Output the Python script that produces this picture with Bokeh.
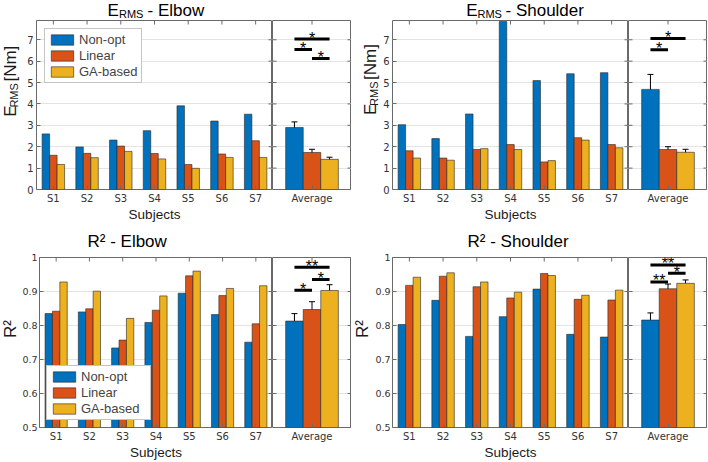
import numpy as np
from bokeh.plotting import figure
from bokeh.layouts import row, column
from bokeh.models import (ColumnDataSource, Range1d, FixedTicker, Whisker, TeeHead,
                          Legend, LegendItem, CustomJSTickFormatter)
from bokeh.core.properties import value
from bokeh.embed import file_html
from bokeh.resources import INLINE

# ---------------- data ----------------
subjects = ["S1", "S2", "S3", "S4", "S5", "S6", "S7"]
avg_label = ["Average"]
methods = ["Non-opt", "Linear", "GA-based"]
colors = ["#0072BD", "#D95319", "#EDB120"]

erms_elbow_nonopt = [2.60, 1.99, 2.31, 2.75, 3.91, 3.20, 3.52]
erms_elbow_linear = [1.60, 1.69, 2.03, 1.68, 1.17, 1.66, 2.28]
erms_elbow_ga = [1.17, 1.49, 1.78, 1.43, 0.99, 1.50, 1.50]
erms_elbow_avg = [2.90, 1.73, 1.41]
erms_elbow_err = [0.26, 0.15, 0.10]
erms_elbow_sig = [(0, 2, 7.03, "*"), (0, 1, 6.54, "*"), (1, 2, 6.12, "*")]

erms_shoulder_nonopt = [3.03, 2.38, 3.53, 7.85, 5.09, 5.41, 5.46]
erms_shoulder_linear = [1.81, 1.47, 1.87, 2.10, 1.29, 2.42, 2.10]
erms_shoulder_ga = [1.47, 1.37, 1.91, 1.87, 1.35, 2.31, 1.95]
erms_shoulder_avg = [4.68, 1.87, 1.74]
erms_shoulder_err = [0.70, 0.13, 0.14]
erms_shoulder_sig = [(0, 2, 7.06, "*"), (0, 1, 6.53, "*")]

r2_elbow_nonopt = [0.835, 0.840, 0.734, 0.809, 0.895, 0.832, 0.751]
r2_elbow_linear = [0.842, 0.849, 0.757, 0.845, 0.946, 0.888, 0.805]
r2_elbow_ga = [0.928, 0.901, 0.821, 0.887, 0.960, 0.909, 0.917]
r2_elbow_avg = [0.813, 0.847, 0.903]
r2_elbow_err = [0.022, 0.023, 0.017]
r2_elbow_sig = [(0, 2, 0.971, "**"), (1, 2, 0.935, "*"), (0, 1, 0.904, "*")]

r2_shoulder_nonopt = [0.803, 0.874, 0.768, 0.826, 0.907, 0.774, 0.766]
r2_shoulder_linear = [0.918, 0.945, 0.914, 0.881, 0.953, 0.877, 0.875]
r2_shoulder_ga = [0.942, 0.955, 0.928, 0.898, 0.947, 0.889, 0.904]
r2_shoulder_avg = [0.816, 0.908, 0.924]
r2_shoulder_err = [0.021, 0.014, 0.010]
r2_shoulder_sig = [(0, 2, 0.978, "**"), (1, 2, 0.954, "*"), (0, 1, 0.928, "**")]

erms_ticks = [0, 1, 2, 3, 4, 5, 6, 7]
r2_ticks = [0.5, 0.6, 0.7, 0.8, 0.9, 1.0]

# ---------------- style ----------------
FRAME = "#6a6a6a"
GRID = "#e4e4e4"
TICKC = "#333333"
LABELC = "#1a1a1a"
LFONT = "Liberation Sans"
TFONT = "DejaVu Sans"
GROUP = 2.0 / 3.0
BW = GROUP / 3.0
OFFS = [(i - 1) * BW for i in range(3)]
TICKLEN = 4
MID = 0.3465  # rendered baseline sits this many em below the anchor


def base_fig(w, h, xr, yr, left, top, bottom, yaxis=True):
    p = figure(width=w, height=h, x_range=xr, y_range=yr, output_backend="svg",
               toolbar_location=None, title=None,
               y_axis_location="left" if yaxis else None,
               min_border_left=left, min_border_right=0, min_border_top=top,
               min_border_bottom=bottom)
    p.outline_line_color = FRAME
    p.outline_line_width = 1
    p.background_fill_color = "white"
    p.border_fill_color = "white"
    p.xgrid.visible = False
    p.ygrid.grid_line_color = GRID
    for ax in p.axis:
        ax.axis_line_color = None
        ax.major_tick_in = TICKLEN
        ax.major_tick_out = 0
        ax.major_tick_line_color = FRAME
        ax.minor_tick_line_color = None
        ax.major_label_text_font = TFONT
        ax.major_label_text_font_size = "10px"
        ax.major_label_text_color = TICKC
    return p


def mirror_ticks(p, xedge_left, xedge_right, xticks, ytop, yticks, left_ticks):
    kw = dict(length=TICKLEN, length_units="screen", line_color=FRAME, line_width=1)
    p.ray(x=[xedge_right] * len(yticks), y=yticks, angle=np.pi, **kw)
    p.ray(x=xticks, y=[ytop] * len(xticks), angle=-np.pi / 2, **kw)
    if left_ticks:
        p.ray(x=[xedge_left] * len(yticks), y=yticks, angle=0.0, **kw)


def text_strip(w, h, items):
    """items: (baseline_x, baseline_y_from_top_or_run_start, text, size_px, rotated, color)."""
    f = figure(width=w, height=h, x_range=Range1d(0, w), y_range=Range1d(0, h),
               output_backend="svg", toolbar_location=None, title=None,
               x_axis_location=None, y_axis_location=None, min_border=0)
    f.outline_line_color = None
    f.background_fill_color = "white"
    f.border_fill_color = "white"
    f.grid.visible = False
    xs, ys, ts, ss, aa, cs = [], [], [], [], [], []
    for bx, by, t, size, rot, c in items:
        if rot:
            xs.append(bx - MID * size)
            ys.append(by)
            aa.append(np.pi / 2)
        else:
            xs.append(bx)
            ys.append(h - (by - MID * size))
            aa.append(0.0)
        ts.append(t)
        ss.append("%gpx" % size)
        cs.append(c)
    src = ColumnDataSource(dict(x=xs, y=ys, t=ts, s=ss, a=aa, c=cs))
    f.text(x="x", y="y", text="t", text_font_size="s", angle="a", text_color="c",
           text_font=value(LFONT), text_align="left", text_baseline="alphabetic", source=src)
    return f


def panel(series, avg, err, sig, y0, y1, yticks, r2, sub_w, sub_left, avg_w, fig_h, top, bottom,
          legend_loc=None, legend_margin=8, legend_label_w=20):
    yr = Range1d(y0, y1)
    n = len(subjects)
    xs = np.arange(1, n + 1)
    p = base_fig(sub_w, fig_h, Range1d(0.5, n + 0.5), yr, sub_left, top, bottom)
    pa = base_fig(avg_w, fig_h, Range1d(0.5, 1.5), yr, 0, top, bottom, yaxis=False)
    renderers = []
    for i, vals in enumerate(series):
        src = ColumnDataSource(dict(x=xs + OFFS[i], top=vals))
        r = p.vbar(x="x", top="top", bottom=0, width=BW, source=src, fill_color=colors[i],
                   line_color="#262626", line_width=0.6)
        renderers.append(r)
    xa = 1 + np.array(OFFS)
    avg = np.array(avg)
    err = np.array(err)
    asrc = ColumnDataSource(dict(x=xa, top=avg, lower=avg - err, upper=avg + err, c=colors))
    pa.vbar(x="x", top="top", bottom=0, width=BW, source=asrc, fill_color="c",
            line_color="#262626", line_width=0.6)
    pa.add_layout(Whisker(source=asrc, base="x", lower="lower", upper="upper",
                          line_color="black", line_width=1,
                          upper_head=TeeHead(size=6, line_color="black", line_width=1),
                          lower_head=TeeHead(size=6, line_color="black", line_width=1)))
    ssrc = ColumnDataSource(dict(x0=[xa[a] for a, b, lv, t in sig],
                                 x1=[xa[b] for a, b, lv, t in sig],
                                 xm=[(xa[a] + xa[b]) / 2 for a, b, lv, t in sig],
                                 y=[lv for a, b, lv, t in sig],
                                 t=[t for a, b, lv, t in sig]))
    pa.segment(x0="x0", y0="y", x1="x1", y1="y", source=ssrc, line_color="black", line_width=3)
    pa.text(x="xm", y="y", text="t", source=ssrc, text_font=value(LFONT), text_font_size="16px",
            text_align="center", text_baseline="alphabetic", y_offset=-1, text_color="black")

    p.xaxis.ticker = FixedTicker(ticks=list(xs))
    p.xaxis.major_label_overrides = {int(k): s for k, s in zip(xs, subjects)}
    pa.xaxis.ticker = FixedTicker(ticks=[1])
    pa.xaxis.major_label_overrides = {1: avg_label[0]}
    p.yaxis.ticker = FixedTicker(ticks=yticks)
    p.yaxis.major_label_standoff = 3
    pa.ygrid.ticker = FixedTicker(ticks=yticks)
    for q in (p, pa):
        q.xaxis.major_label_standoff = 3
    if r2:
        p.yaxis.formatter = CustomJSTickFormatter(code="return String(Math.round(tick*10)/10)")
        p.yaxis.major_label_standoff = 2
        p.yaxis.major_label_text_font_size = "9.5px"
    p.xaxis.axis_label = "Subjects"
    p.xaxis.axis_label_text_font = LFONT
    p.xaxis.axis_label_text_font_size = "13.5px"
    p.xaxis.axis_label_text_font_style = "normal"
    p.xaxis.axis_label_text_color = LABELC
    p.xaxis.axis_label_standoff = 0

    mirror_ticks(p, 0.5, n + 0.5, list(xs), y1, yticks, False)
    mirror_ticks(pa, 0.5, 1.5, [1], y1, yticks, True)

    if legend_loc:
        leg = Legend(items=[LegendItem(label=m, renderers=[r]) for m, r in zip(methods, renderers)],
                     location=legend_loc, margin=legend_margin, padding=3, spacing=1,
                     glyph_width=28, glyph_height=13, label_height=13, label_standoff=3,
                     label_width=legend_label_w,
                     label_text_font=LFONT, label_text_font_size="13px",
                     border_line_color="#8a8a8a", border_line_width=1,
                     background_fill_color="white", background_fill_alpha=1.0)
        p.add_layout(leg)
    return p, pa


# ---- top row ----
H_T1, H_B1 = 20, 209
title1 = text_strip(707, H_T1, [
    (107, 15.6, "E", 17, False, "black"),
    (118.5, 17.5, "RMS", 11, False, "black"),
    (147, 15.6, "- Elbow", 17, False, "black"),
    (465.7, 15.6, "E", 17, False, "black"),
    (477, 17.5, "RMS", 11, False, "black"),
    (505, 15.6, "- Shoulder", 17, False, "black"),
])
yl_tl = text_strip(20, H_B1, [
    (15.8, 90, "E", 17, True, LABELC),
    (17.6, 101.3, "RMS", 11, True, LABELC),
    (15.8, 133.5, "[Nm]", 17, True, LABELC),
])
yl_tr = text_strip(29, H_B1, [
    (25.0, 92, "E", 17, True, LABELC),
    (26.6, 103.3, "RMS", 11, True, LABELC),
    (25.0, 135.5, "[Nm]", 17, True, LABELC),
])
tl, tla = panel([erms_elbow_nonopt, erms_elbow_linear, erms_elbow_ga], erms_elbow_avg,
                erms_elbow_err, erms_elbow_sig, 0, 7.9, erms_ticks, False,
                252, 16, 79, H_B1, 0, 40, legend_loc="top_left", legend_margin=8)
tr, tra = panel([erms_shoulder_nonopt, erms_shoulder_linear, erms_shoulder_ga], erms_shoulder_avg,
                erms_shoulder_err, erms_shoulder_sig, 0, 7.9, erms_ticks, False,
                248, 10, 79, H_B1, 0, 40)

# ---- bottom row ----
H_T2, H_B2 = 22, 211
title2 = text_strip(707, H_T2, [
    (87, 18.3, "R\u00b2 - Elbow", 17, False, "black"),
    (467, 18.3, "R\u00b2 - Shoulder", 17, False, "black"),
])
yl_bl = text_strip(19, H_B2, [(15.4, 111, "R\u00b2", 17, True, LABELC)])
yl_br = text_strip(21, H_B2, [(17.0, 111, "R\u00b2", 17, True, LABELC)])
bl, bla = panel([r2_elbow_nonopt, r2_elbow_linear, r2_elbow_ga], r2_elbow_avg,
                r2_elbow_err, r2_elbow_sig, 0.5, 1.0, r2_ticks, True,
                253, 17, 79, H_B2, 6, 33, legend_loc="bottom_left", legend_margin=7,
                legend_label_w=66)
br, bra = panel([r2_shoulder_nonopt, r2_shoulder_linear, r2_shoulder_ga], r2_shoulder_avg,
                r2_shoulder_err, r2_shoulder_sig, 0.5, 1.0, r2_ticks, True,
                256, 18, 79, H_B2, 6, 33)

layout = column(title1, row(yl_tl, tl, tla, yl_tr, tr, tra),
                title2, row(yl_bl, bl, bla, yl_br, br, bra))
open("out.html", "w").write(file_html(layout, INLINE))
